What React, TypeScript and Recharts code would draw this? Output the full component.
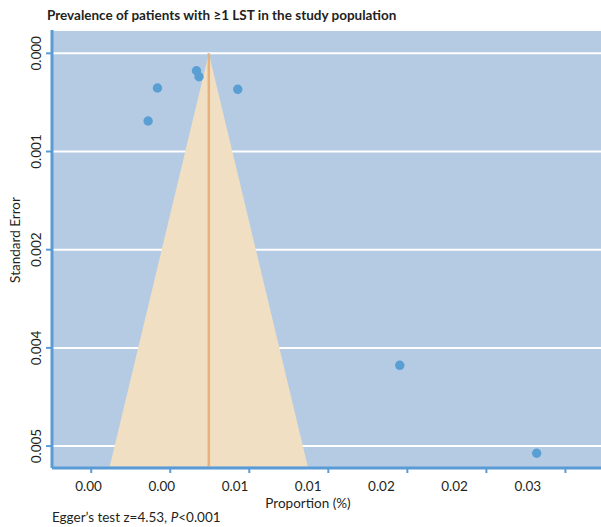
import {
  ComposedChart,
  Area,
  Scatter,
  XAxis,
  YAxis,
  CartesianGrid,
  ReferenceLine,
  Label,
} from "recharts";

// study estimates: proportion vs standard error
const studyProportion = [0.00166, 0.00182, -0.00081, 0.00427, -0.0014, 0.01452, 0.02318];
const studyStdError = [0.000213, 0.000286, 0.000424, 0.00044, 0.000827, 0.003813, 0.004888];

// pooled estimate and funnel limits
const pooled = 0.00244;
const funnelBottomSE = 0.00505;
const funnelLeft = -0.00383;
const funnelRight = 0.0087;

const xTicks = [-0.005, 0, 0.005, 0.01, 0.015, 0.02, 0.025];
const xTickLabels = ["0.00", "0.00", "0.01", "0.01", "0.02", "0.02", "0.03"];
const yTicks = [0, 0.0012, 0.0024, 0.0036, 0.0048];
const yTickLabels = ["0.000", "0.001", "0.002", "0.004", "0.005"];

const studies = studyProportion.map((x, i) => ({ x, y: studyStdError[i] }));
const funnel = [
  { x: funnelLeft, band: [funnelBottomSE, funnelBottomSE] },
  { x: pooled, band: [0, funnelBottomSE] },
  { x: funnelRight, band: [funnelBottomSE, funnelBottomSE] },
];
// invisible anchors so the label axis gets a scale
const labelAnchors = xTicks.map((x) => ({ x, y: 0 }));

const FONT = "Lato, 'Open Sans', sans-serif";
const AXIS_BLUE = "#5b9bd5";
const TEXT = "#231f20";

const YTick = ({ y, payload }: any) => {
  const i = yTicks.indexOf(payload.value);
  const tx = 41;
  return (
    <text
      x={tx}
      y={y}
      transform={`rotate(-90 ${tx} ${y})`}
      textAnchor="middle"
      fontFamily={FONT}
      fontSize={13.5}
      fill={TEXT}
    >
      {yTickLabels[i]}
    </text>
  );
};

const XLabelTick = ({ x, y, payload }: any) => {
  const i = xTicks.indexOf(payload.value);
  return (
    <text x={x} y={y + 22} textAnchor="middle" fontFamily={FONT} fontSize={13.5} fill={TEXT}>
      {xTickLabels[i]}
    </text>
  );
};

export default function App() {
  return (
    <div style={{ position: "absolute", left: 0, top: 0, width: 601, height: 527, background: "#fff" }}>
      <svg width={601} height={527} style={{ position: "absolute", left: 0, top: 0 }}>
        <text x={47} y={20} fontFamily={FONT} fontWeight={700} fontSize={13.5} fill={TEXT}>
          Prevalence of patients with ≥1 LST in the study population
        </text>
        <text x={52} y={522} fontFamily={FONT} fontSize={13.5} fill={TEXT}>
          Egger’s test z=4.53, <tspan fontStyle="italic">P</tspan>&lt;0.001
        </text>
      </svg>
      <div style={{ position: "absolute", left: 0, top: 0 }}>
        <ComposedChart
          width={601}
          height={527}
          data={funnel}
          margin={{ top: 30, right: 0, left: 0, bottom: 0 }}
        >
          <CartesianGrid
            fill="#b4cbe3"
            fillOpacity={1}
            stroke="#ffffff"
            strokeWidth={2}
            vertical={false}
          />
          <XAxis
            type="number"
            dataKey="x"
            domain={[-0.00748, 0.02725]}
            ticks={xTicks}
            allowDataOverflow
            height={1}
            tick={() => <g />}
            tickSize={5}
            tickLine={{ stroke: AXIS_BLUE, strokeWidth: 2 }}
            axisLine={{ stroke: AXIS_BLUE, strokeWidth: 3 }}
          />
          <XAxis
            xAxisId="lab"
            type="number"
            dataKey="x"
            domain={[-0.0075, 0.03]}
            ticks={xTicks}
            allowDataOverflow
            height={58}
            tickSize={0}
            tickMargin={0}
            tickLine={false}
            axisLine={false}
            tick={<XLabelTick />}
          >
            <Label
              content={() => (
                <text x={308} y={508} textAnchor="middle" fontFamily={FONT} fontSize={13.5} fill={TEXT}>
                  Proportion (%)
                </text>
              )}
            />
          </XAxis>
          <YAxis
            type="number"
            dataKey="y"
            reversed
            domain={[-0.000285, 0.005068]}
            ticks={yTicks}
            allowDataOverflow
            width={52}
            tickSize={6}
            tick={<YTick />}
            tickLine={{ stroke: AXIS_BLUE, strokeWidth: 2 }}
            axisLine={{ stroke: AXIS_BLUE, strokeWidth: 3 }}
          >
            <Label
              content={() => (
                <text
                  x={20}
                  y={240}
                  transform="rotate(-90 20 240)"
                  textAnchor="middle"
                  fontFamily={FONT}
                  fontSize={13.5}
                  fill={TEXT}
                >
                  Standard Error
                </text>
              )}
            />
          </YAxis>
          <Area
            dataKey="band"
            type="linear"
            fill="#f0dfc2"
            fillOpacity={1}
            stroke="none"
            isAnimationActive={false}
            activeDot={false}
          />
          <ReferenceLine
            segment={[
              { x: pooled, y: 0 },
              { x: pooled, y: funnelBottomSE },
            ]}
            stroke="#e9b07c"
            strokeWidth={2.5}
          />
          <Scatter
            xAxisId="lab"
            data={labelAnchors}
            isAnimationActive={false}
            shape={() => <g />}
          />
          <Scatter
            data={studies}
            isAnimationActive={false}
            shape={(p: any) => <circle cx={p.cx} cy={p.cy} r={4.7} fill="#5a9fd4" />}
          />
        </ComposedChart>
      </div>
    </div>
  );
}
